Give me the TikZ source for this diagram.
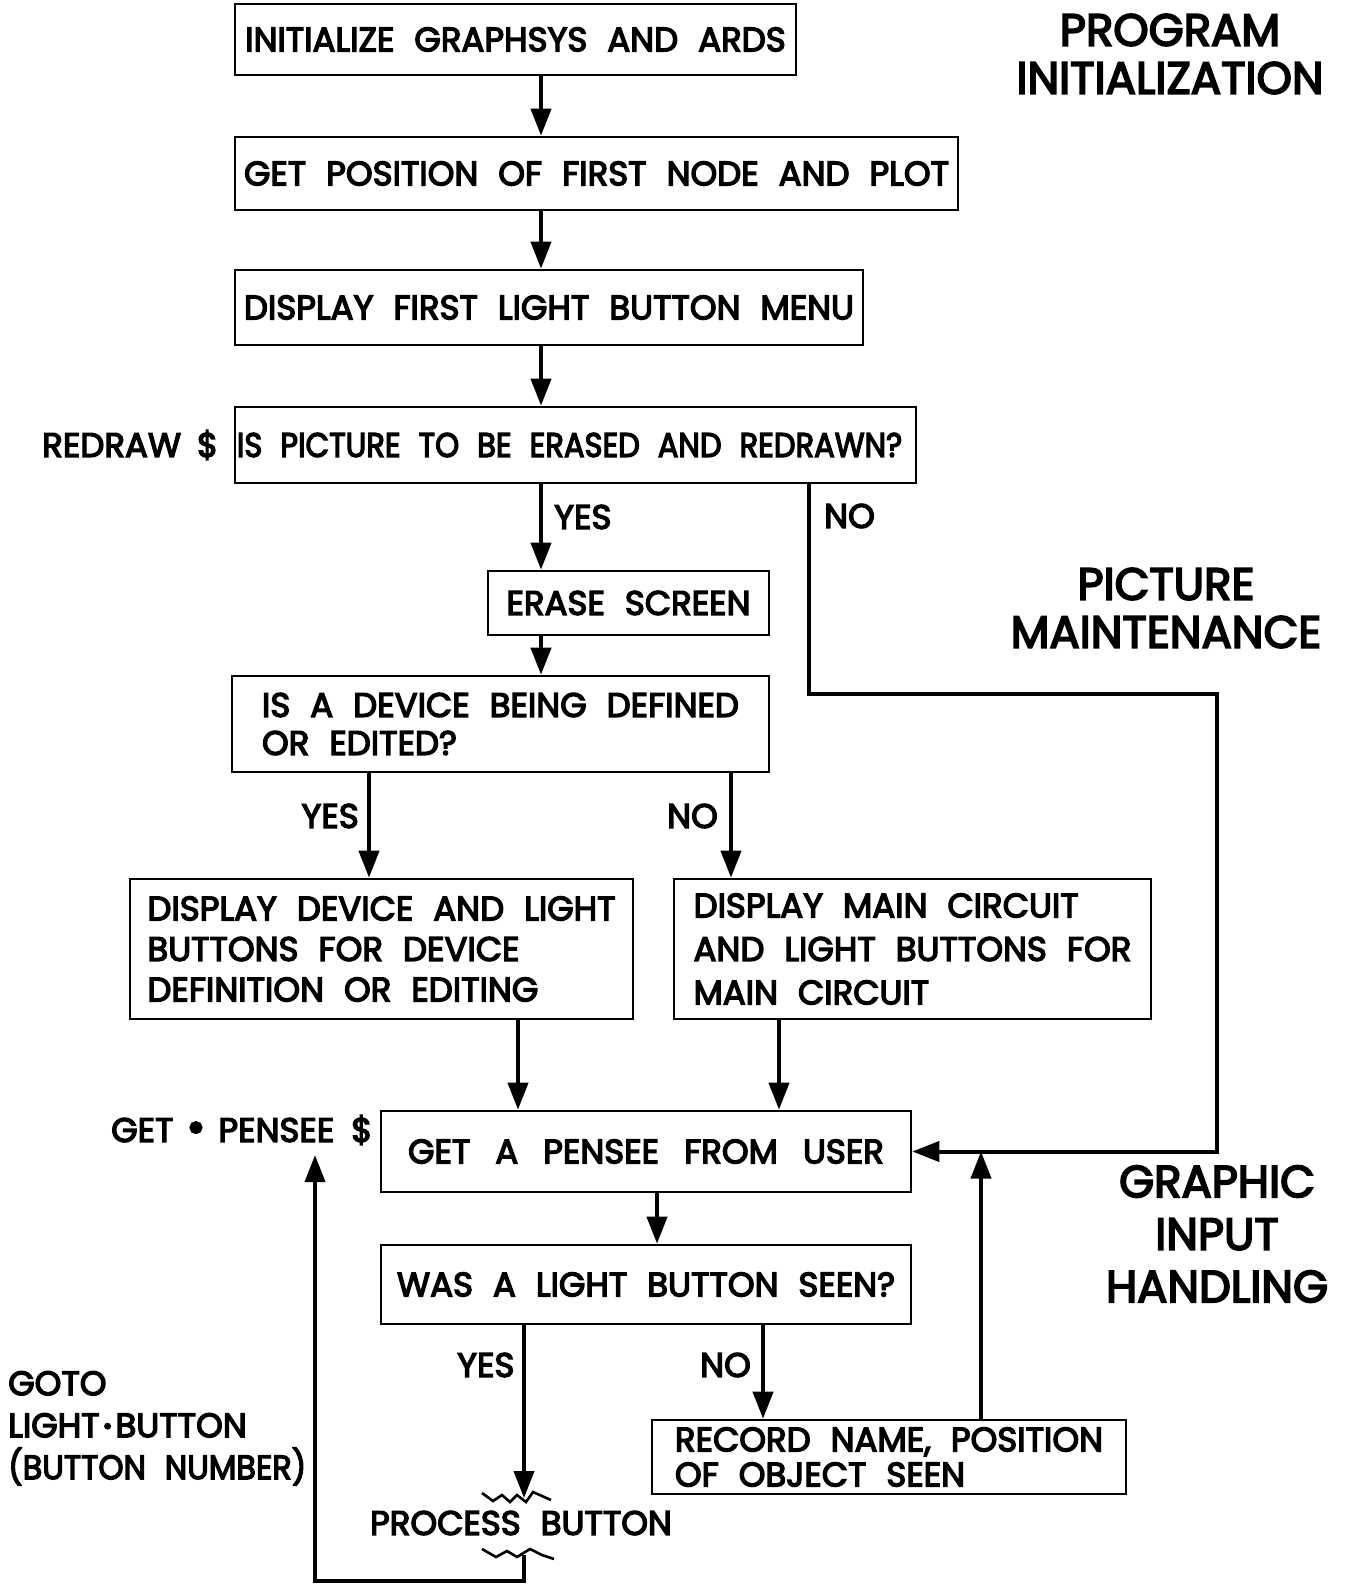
\documentclass[tikz,border=0pt]{standalone}
\usepackage{fontspec}
\setmainfont{Poppins}[WordSpace=2.2,FakeBold=4]
\usetikzlibrary{arrows.meta}
\newcommand\bxf{\fontsize{34}{40}\selectfont}
\newcommand\bgf{\fontsize{45}{48}\selectfont}
\newcommand\smb{\hspace{3pt}{\fontsize{24}{24}\selectfont\raisebox{3pt}{•}}\hspace{3pt}}
\tikzset{
  box/.style={draw, line width=2.6pt, inner sep=0pt, font=\bxf, align=left},
  arr/.style={line width=4pt, -{Triangle[length=27pt,width=20pt]}},
  zz/.style={line width=2.6pt, line join=miter},
  lbl/.style={inner sep=0pt, font=\bxf, align=left},
  big/.style={inner sep=0pt, font=\bgf, align=center},
}
\begin{document}
\begin{tikzpicture}[x=1pt,y=-1pt]
\useasboundingbox (0,0) rectangle (1346,1586);
% boxes
\node[box, minimum width=561, minimum height=71] (b1) at (515.5,39.5) {INITIALIZE GRAPHSYS AND ARDS};
\node[box, minimum width=723, minimum height=73] (b2) at (596.5,173.5) {GET POSITION OF FIRST NODE AND PLOT};
\node[box, minimum width=628, minimum height=75] (b3) at (549,307.5) {DISPLAY FIRST LIGHT BUTTON MENU};
\node[box, minimum width=681, minimum height=76] (b4) at (575.5,445) {\scalebox{0.9}[1]{IS PICTURE TO BE ERASED AND REDRAWN?}\hspace{12pt}};
\node[box, minimum width=281, minimum height=64] (b5) at (628.5,603) {ERASE SCREEN};
\node[box, minimum width=537, minimum height=96, font=\fontsize{34}{38}\selectfont] (b6) at (500.5,724) {IS A DEVICE BEING DEFINED\\OR EDITED?};
\node[box, minimum width=503, minimum height=140, font=\fontsize{34}{40.5}\selectfont] (b7) at (381.5,949) {DISPLAY DEVICE AND LIGHT\\BUTTONS FOR DEVICE\\DEFINITION OR EDITING};
\node[box, minimum width=477, minimum height=140, font=\fontsize{34}{43.5}\selectfont] (b8) at (912.5,949) {DISPLAY MAIN CIRCUIT\\AND LIGHT BUTTONS FOR\\MAIN CIRCUIT};
\node[box, minimum width=530, minimum height=81] (b9) at (646,1151.5) {GET\hspace{25pt}A\hspace{25pt}PENSEE\hspace{25pt}FROM\hspace{25pt}USER};
\node[box, minimum width=530, minimum height=79] (b10) at (646,1284.5) {WAS A LIGHT BUTTON SEEN?};
\node[box, minimum width=474, minimum height=74, font=\fontsize{34}{35}\selectfont] (b11) at (889,1457) {RECORD NAME, POSITION\\OF OBJECT SEEN};
\node[lbl] (pb) at (521,1523) {PROCESS BUTTON};
% side labels
\node[big] (t1) at (1170,54) {PROGRAM\\INITIALIZATION};
\node[big] (t2) at (1166,608) {PICTURE\\MAINTENANCE};
\node[big, font=\fontsize{45}{52.5}\selectfont] (t3) at (1217,1234) {GRAPHIC\\INPUT\\HANDLING};
\node[lbl, anchor=west] (l1) at (42,445) {REDRAW\hspace{16pt}\$};
\node[lbl, anchor=west] (l2) at (111,1130) {GET\hspace{13pt}{\fontsize{46}{46}\selectfont\raisebox{-1pt}{•}}\hspace{13pt}PENSEE\hspace{17pt}\$};
\node[lbl, anchor=north west, font=\fontsize{34}{42}\selectfont] (l3) at (8,1371) {GOTO\\LIGHT\smb BUTTON\\\scalebox{0.94}[1]{(BUTTON NUMBER)}};
% branch labels
\node[lbl, anchor=west] (y1) at (554,517) {YES};
\node[lbl, anchor=west] (n1) at (824,516) {NO};
\node[lbl, anchor=east] (y2) at (359,816) {YES};
\node[lbl, anchor=west] (n2) at (667,816) {NO};
\node[lbl, anchor=west] (y3) at (457,1365) {YES};
\node[lbl, anchor=west] (n3) at (700,1365) {NO};
% x-positions
\coordinate (xm) at (541,0);
\coordinate (x6a) at (369,0);
\coordinate (x6b) at (731,0);
\coordinate (x7) at (518,0);
\coordinate (x8) at (779,0);
\coordinate (x9) at (657,0);
\coordinate (x10a) at (524,0);
\coordinate (x10b) at (763,0);
\coordinate (xr) at (981,0);
\coordinate (k1) at (809,694);
\coordinate (k2) at (1217,694);
\coordinate (zt) at (524,1498);
\coordinate (zb) at (524,1555);
\coordinate (lb1) at (524,1581);
\coordinate (lb2) at (315,1581);
\coordinate (lbt) at (315,1155);
% connectors
\draw[arr] (b1.south -| xm) -- (b2.north -| xm);
\draw[arr] (b2.south -| xm) -- (b3.north -| xm);
\draw[arr] (b3.south -| xm) -- (b4.north -| xm);
\draw[arr] (b4.south -| xm) -- (b5.north -| xm);
\draw[arr] (b5.south -| xm) -- (b6.north -| xm);
\draw[arr] (b4.south -| k1) -- (k1) -- (k2) -- (k2 |- b9.east) -- (b9.east);
\draw[arr] (b6.south -| x6a) -- (b7.north -| x6a);
\draw[arr] (b6.south -| x6b) -- (b8.north -| x6b);
\draw[arr] (b7.south -| x7) -- (b9.north -| x7);
\draw[arr] (b8.south -| x8) -- (b9.north -| x8);
\draw[arr] (b9.south -| x9) -- (b10.north -| x9);
\draw[arr] (b10.south -| x10a) -- (zt);
\draw[arr] (b10.south -| x10b) -- (b11.north -| x10b);
\draw[arr] (b11.north -| xr) -- (xr |- b9.east);
\draw[arr] (zb) -- (lb1) -- (lb2) -- (lbt);
% zigzags
\draw[zz] (482,1493) -- (493,1501) -- (502,1495) -- (510,1502) -- (517,1495) -- (526,1502) -- (533,1492) -- (551,1500);
\draw[zz] (482,1549) -- (496,1557) -- (507,1551) -- (517,1557) -- (530,1549) -- (542,1555) -- (554,1559);
\end{tikzpicture}
\end{document}
